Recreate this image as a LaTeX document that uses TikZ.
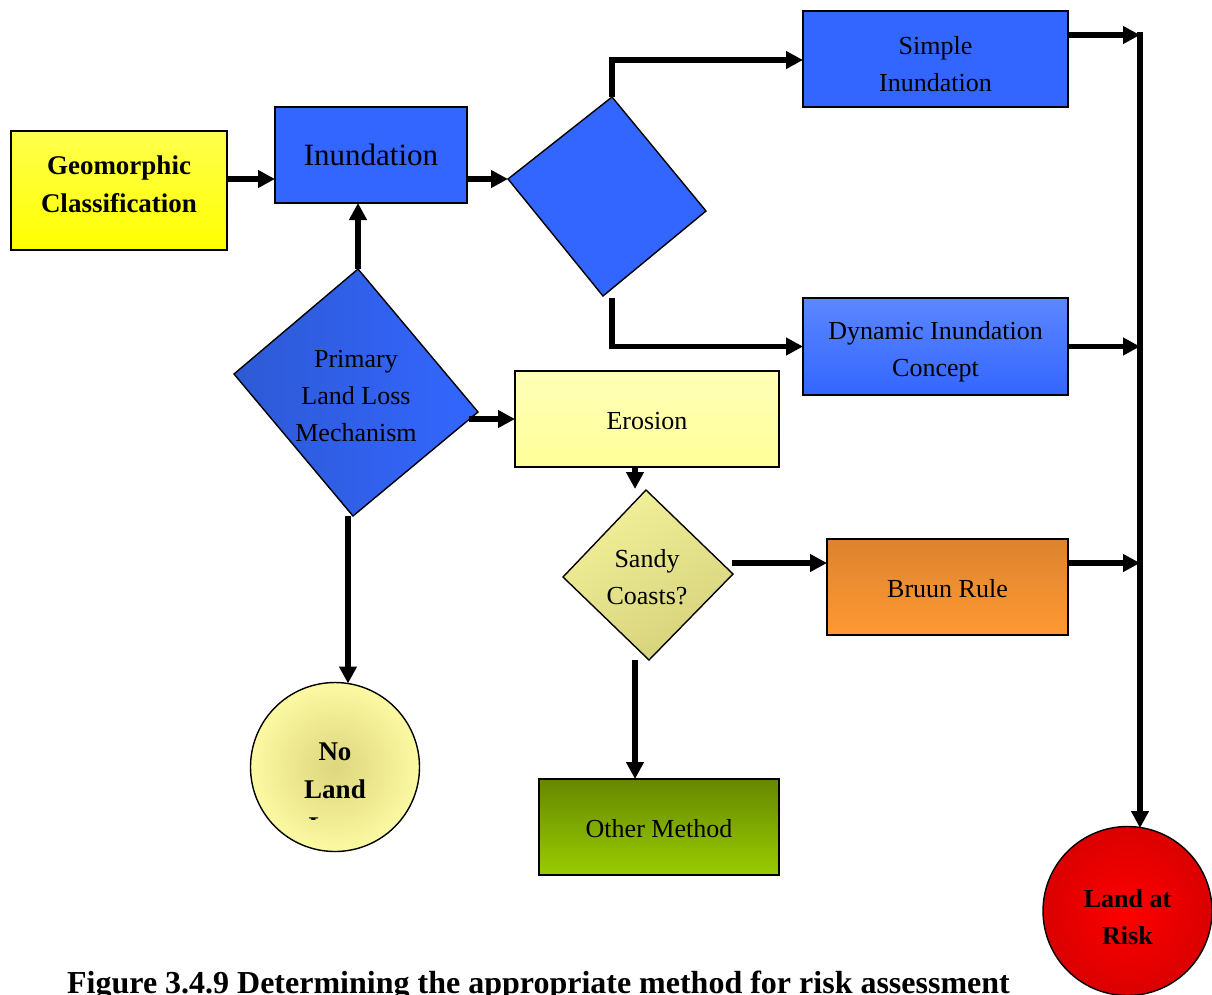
\documentclass[tikz,border=0pt]{standalone}
\usepackage{fontspec}
\setmainfont{Liberation Serif}
\usetikzlibrary{arrows.meta,calc}

\definecolor{blueFlat}{HTML}{3366FF}
\definecolor{dynTop}{HTML}{5C87FF}
\definecolor{primLeft}{HTML}{2E5AD4}
\definecolor{eroTop}{HTML}{FFFFB8}
\definecolor{eroBot}{HTML}{FFFF99}
\definecolor{geoTop}{HTML}{FFFF4D}
\definecolor{geoBot}{HTML}{FFFF00}
\definecolor{bruTop}{HTML}{DC832F}
\definecolor{bruBot}{HTML}{FF9933}
\definecolor{othTop}{HTML}{668800}
\definecolor{othBot}{HTML}{99CC00}
\definecolor{sandLight}{HTML}{F2F09A}
\definecolor{sandDark}{HTML}{D6D27C}
\definecolor{noIn}{HTML}{DDD67E}
\definecolor{noOut}{HTML}{FBF9A2}
\definecolor{riskIn}{HTML}{FF0000}
\definecolor{riskOut}{HTML}{DA0000}

\begin{document}
\begin{tikzpicture}[x=1pt,y=-1pt,
  every node/.style={inner sep=0pt,outer sep=0pt},
  outline/.style={draw=black,line width=1.4pt},
  boxnode/.style={outline,rectangle},
  txt/.style={align=center,font=\fontsize{26}{37}\selectfont},
  btxt/.style={align=center,font=\bfseries\fontsize{27}{38}\selectfont},
  flow/.style={line width=5.5pt,line join=miter,-{Triangle[length=17pt,width=17pt]}}]

\useasboundingbox (0,0) rectangle (1212,994);
\clip (0,0) rectangle (1212,994);

% ---- boxes ----
\node[boxnode,minimum width=216pt,minimum height=119pt,top color=geoTop,bottom color=geoBot] (geo) at (119,190.5) {};
\node[btxt] (geoT) at (119,184) {Geomorphic\\Classification};

\node[boxnode,minimum width=192pt,minimum height=96pt,fill=blueFlat] (inund) at (371,155) {};
\node[align=center,font=\fontsize{31}{37}\selectfont] (inundT) at (371,155) {Inundation};

\node[boxnode,minimum width=265pt,minimum height=96pt,fill=blueFlat] (simple) at (935.5,59) {};
\node[txt] (simpleT) at (935.5,64) {Simple\\Inundation};

\node[boxnode,minimum width=265pt,minimum height=97pt,top color=dynTop,bottom color=blueFlat] (dyn) at (935.5,346.5) {};
\node[txt] (dynT) at (935.5,352) {Dynamic Inundation\\Concept};

\node[boxnode,minimum width=264pt,minimum height=96pt,top color=eroTop,bottom color=eroBot] (ero) at (647,419) {};
\node[txt] (eroT) at (647,421) {Erosion};

\node[boxnode,minimum width=241pt,minimum height=96pt,top color=bruTop,bottom color=bruBot] (bruun) at (947.5,587) {};
\node[txt] (bruunT) at (947.5,589) {Bruun Rule};

\node[boxnode,minimum width=240pt,minimum height=96pt,top color=othTop,bottom color=othBot] (other) at (659,827) {};
\node[txt] (otherT) at (659,829) {Other Method};

% ---- decision shapes ----
\coordinate (d1T) at (612,97);
\coordinate (d1R) at (706,211);
\coordinate (d1B) at (603,296);
\coordinate (d1L) at (508,179);
\path[outline,fill=blueFlat] (d1T) -- (d1R) -- (d1B) -- (d1L) -- cycle;

\coordinate (pT) at (358,269);
\coordinate (pR) at (478,412);
\coordinate (pB) at (353,516);
\coordinate (pL) at (234,374);
\path[outline,left color=primLeft,right color=blueFlat] (pT) -- (pR) -- (pB) -- (pL) -- cycle;
\node[txt] (primT) at (356,396) {Primary\\Land Loss\\Mechanism};

\coordinate (sT) at (646,490);
\coordinate (sR) at (733,574);
\coordinate (sB) at (649,660);
\coordinate (sL) at (563,577);
\path[outline,top color=sandLight,bottom color=sandDark,shading angle=30] (sT) -- (sR) -- (sB) -- (sL) -- cycle;
\node[txt] (sandyT) at (647,577) {Sandy\\Coasts?};

% ---- terminals ----
\node[outline,circle,minimum size=169pt,inner color=noIn,outer color=noOut] (noland) at (335,767) {};
\node[btxt] (nolandT) at (335,771) {No\\Land};
\begin{scope}
  \clip (250,700) rectangle (420,819.5);
  \node[anchor=base,font=\bfseries\fontsize{27}{38}\selectfont] (nolandT2) at (335,835) {Loss};
\end{scope}

\node[outline,circle,minimum size=169pt,inner color=riskIn,outer color=riskOut] (risk) at (1127.5,911) {};
\node[btxt,font=\bfseries\fontsize{26}{37}\selectfont] (riskT) at (1127.5,917) {Land at\\Risk};

% ---- connector anchors ----
\coordinate (busTop) at (1140,35);
\coordinate (d1Out) at (612,298);
\coordinate (pOut) at (469,419);
\coordinate (pDown) at (348,516);
\coordinate (sIn) at (635,489);
\coordinate (sOut) at (732,563);
\coordinate (sDown) at (635,660);

% ---- connectors ----
\draw[flow] (geo.east |- d1L) -- (inund.west |- d1L);
\draw[flow] (inund.east |- d1L) -- (d1L);
\draw[flow] (d1T) -- (d1T |- 0,60) -- (simple.west |- 0,60);
\draw[flow] (d1Out) -- (d1Out |- dyn.west) -- (dyn.west);
\draw[flow] (simple.east |- busTop) -- (busTop);
\draw[flow] (dyn.east) -- (dyn.east -| busTop);
\draw[flow] (sOut -| bruun.east) -- (sOut -| busTop);
\draw[flow] ($(busTop)+(0,-2.75)$) -- (busTop |- 0,828);
\draw[flow] (pT) -- (pT |- inund.south);
\draw[flow] (pOut) -- (ero.west);
\draw[flow] (pDown) -- (pDown |- 0,683.5);
\draw[flow] (sIn |- ero.south) -- (sIn);
\draw[flow] (sOut) -- (sOut -| bruun.west);
\draw[flow] (sDown) -- (sDown |- other.north);

% ---- caption ----
\node[anchor=base,font=\bfseries\fontsize{32}{38}\selectfont] (caption) at (538.5,993)
  {Figure 3.4.9 Determining the appropriate method for risk assessment};
\end{tikzpicture}
\end{document}
